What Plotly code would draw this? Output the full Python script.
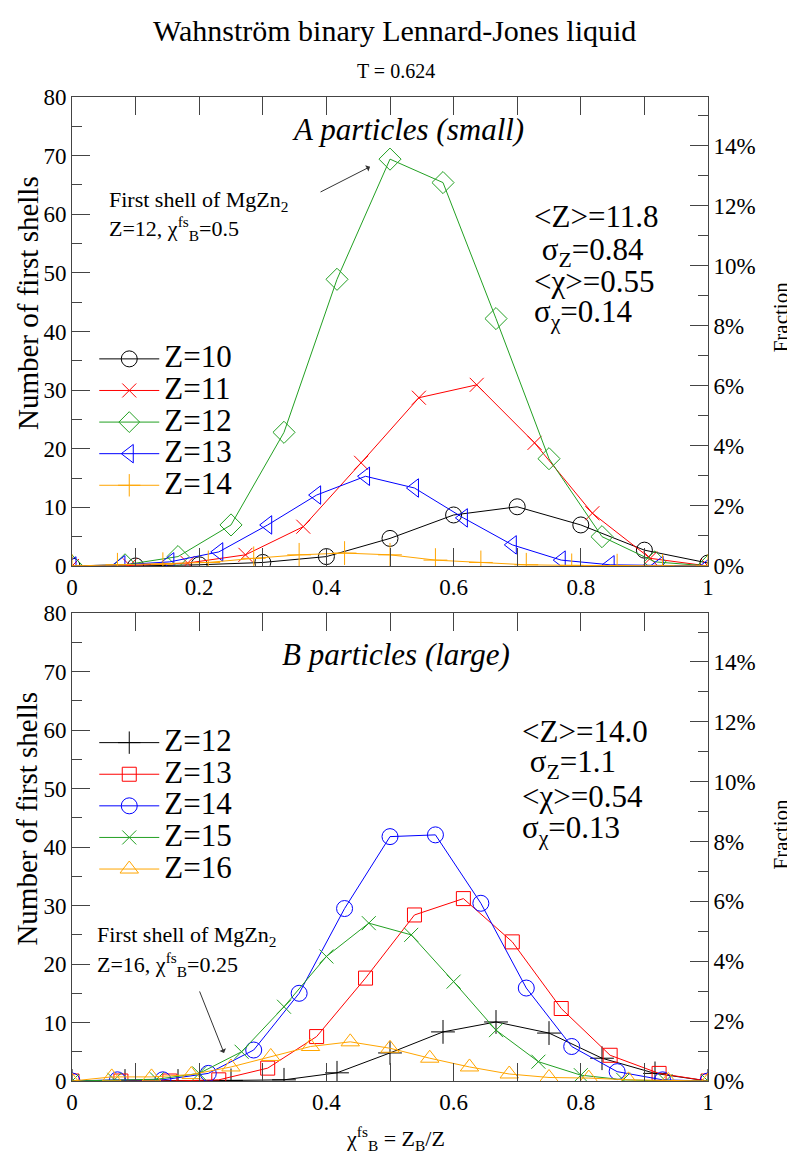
import plotly.graph_objects as go

# ---------------- data ----------------
# Panel A: small particles, coordination number Z, counts vs chi = Z_B/Z
a_Z = [10, 11, 12, 13, 14]
a_counts = {
    10: [0, 0, 0.2, 0.6, 1.6, 4.7, 8.7, 10.1, 7.0, 2.7, 0.5],
    11: [0, 0.1, 0.5, 1.9, 6.7, 17.6, 28.7, 30.9, 21.0, 9.0, 1.3, 0],
    12: [0, 0.2, 1.6, 7.0, 22.8, 48.9, 69.4, 65.4, 42.2, 18.3, 5.0, 0.7, 0],
    13: [0, 0.2, 0.7, 2.4, 7.0, 12.1, 15.3, 13.3, 8.2, 3.6, 1.0, 0.2, 0.1, 0],
    14: [0, 0.2, 0.3, 0.6, 1.3, 1.9, 2.2, 1.9, 1.0, 0.6, 0.2, 0.1, 0.05, 0, 0],
}
a_colors = {10: "#000000", 11: "#ff0000", 12: "#22a022", 13: "#0000ff", 14: "#ffa500"}
a_symbols = {10: "circle-open", 11: "x-thin-open", 12: "diamond-open",
             13: "triangle-left-open", 14: "cross-thin-open"}

# Panel B: large particles
b_Z = [12, 13, 14, 15, 16]
b_counts = {
    12: [0, 0, 0, 0.1, 0.2, 1.4, 4.8, 8.4, 10.1, 8.2, 3.9, 1.3, 0],
    13: [0, 0, 0, 0.2, 2.2, 7.6, 17.6, 28.4, 31.2, 23.8, 12.4, 4.4, 1.3, 0],
    14: [0, 0.2, 0.2, 1.3, 5.3, 15.0, 29.5, 41.8, 42.1, 30.4, 15.9, 5.9, 1.6, 0.2, 0],
    15: [0, 0.2, 0.3, 1.3, 5.0, 12.7, 21.3, 27.0, 25.0, 17.0, 8.7, 3.3, 1.0, 0.2, 0, 0],
    16: [0, 0.7, 0.7, 1.1, 2.4, 4.2, 5.9, 6.7, 5.6, 3.9, 2.4, 1.2, 0.6, 0.5, 0.2, 0.1, 0],
}
b_colors = {12: "#000000", 13: "#ff0000", 14: "#0000ff", 15: "#22a022", 16: "#ffa500"}
b_symbols = {12: "cross-thin-open", 13: "square-open", 14: "circle-open",
             15: "x-thin-open", 16: "triangle-up-open"}

marker_sizes = {"circle-open": 16, "x-thin-open": 14, "diamond-open": 17,
                "triangle-left-open": 16, "cross-thin-open": 17,
                "square-open": 14, "triangle-up-open": 16}

a_stats = ["&lt;Z&gt;=11.8", " σ<sub>Z</sub>=0.84", "&lt;χ&gt;=0.55", "σ<sub>χ</sub>=0.14"]
b_stats = ["&lt;Z&gt;=14.0", " σ<sub>Z</sub>=1.1", "&lt;χ&gt;=0.54", "σ<sub>χ</sub>=0.13"]

count_range = [0, 80]
fraction_range = [0, 15.625]  # percent, same scale as counts (total ~512 shells)

FONT = "Liberation Serif"
AX = "#444444"

fig = go.Figure()

def add_panel(Zs, counts, colors, symbols, xa, ya, legend):
    for Z in Zs:
        xs = [k / Z for k in range(Z + 1)]
        fig.add_trace(go.Scatter(
            x=xs, y=counts[Z], mode="lines+markers",
            name=f'<span style="font-size:31px">Z={Z}</span>',
            xaxis=xa, yaxis=ya, legend=legend,
            line=dict(color=colors[Z], width=1),
            marker=dict(symbol=symbols[Z], size=marker_sizes[symbols[Z]], color=colors[Z],
                        line=dict(color=colors[Z], width=1)),
        ))

add_panel(a_Z, a_counts, a_colors, a_symbols, "x", "y", "legend")
add_panel(b_Z, b_counts, b_colors, b_symbols, "x2", "y2", "legend2")

# empty traces so the right-hand (fraction) axes exist
fig.add_trace(go.Scatter(x=[], y=[], xaxis="x", yaxis="y3", showlegend=False))
fig.add_trace(go.Scatter(x=[], y=[], xaxis="x2", yaxis="y4", showlegend=False))

tickfont = dict(family=FONT, size=23, color="#000")

def xaxis_cfg(anchor):
    return dict(range=[0, 1], dtick=0.2, tick0=0, anchor=anchor, domain=[0, 1],
                showline=True, linecolor=AX, linewidth=1, mirror="allticks",
                ticks="inside", ticklen=18, tickcolor=AX, tickwidth=1,
                minor=dict(dtick=0.1, ticks="inside", ticklen=9, tickcolor=AX),
                showgrid=False, zeroline=False, tickfont=tickfont, automargin=False)

def yaxis_cfg(anchor, domain):
    return dict(range=count_range, dtick=10, anchor=anchor, domain=domain,
                showline=True, linecolor=AX, linewidth=1,
                ticks="inside", ticklen=18, tickcolor=AX, tickwidth=1,
                minor=dict(dtick=5, ticks="inside", ticklen=10, tickcolor=AX),
                showgrid=False, zeroline=False, tickfont=tickfont, automargin=False)

def yright_cfg(anchor, over):
    return dict(range=fraction_range, dtick=2, anchor=anchor, overlaying=over,
                side="right", ticksuffix="%",
                showline=True, linecolor=AX, linewidth=1,
                ticks="inside", ticklen=18, tickcolor=AX, tickwidth=1,
                minor=dict(dtick=1, ticks="inside", ticklen=10, tickcolor=AX),
                showgrid=False, zeroline=False, tickfont=tickfont, automargin=False)

dom_top = [0.5234, 1.0]
dom_bot = [0.0, 0.4753]

legend_cfg = dict(font=dict(family=FONT, size=22, color="#000"),
                  bgcolor="rgba(0,0,0,0)", itemwidth=60, tracegroupgap=0,
                  xanchor="left", yanchor="top")

# the page body adds an 8px offset, so margins are reduced on the left/top
fig.update_layout(
    width=795, height=1158,
    margin=dict(l=64, r=95, t=89, b=85),
    paper_bgcolor="white", plot_bgcolor="white",
    font=dict(family=FONT, color="#000"),
    xaxis=xaxis_cfg("y"),
    yaxis=yaxis_cfg("x", dom_top),
    yaxis3=yright_cfg("x", "y"),
    xaxis2=xaxis_cfg("y2"),
    yaxis2=yaxis_cfg("x2", dom_bot),
    yaxis4=yright_cfg("x2", "y2"),
    legend=dict(legend_cfg, x=0.035, y=0.755),
    legend2=dict(legend_cfg, x=0.035, y=0.365),
    showlegend=True,
)

ann = []
def text(x, y, t, size, xref="paper", yref="paper", xanchor="center", angle=0):
    ann.append(dict(x=x, y=y, xref=xref, yref=yref, text=t, showarrow=False,
                    xanchor=xanchor, yanchor="middle", textangle=angle,
                    font=dict(family=FONT, size=size, color="#000")))

# titles
text(0.507, 1.068, "Wahnström binary Lennard-Jones liquid", 30)
text(0.51, 1.026, "T = 0.624", 20)

# panel titles
text(0.528, 74.4, "<i>A particles (small)</i>", 31, "x", "y")
text(0.509, 72.9, "<i>B particles (large)</i>", 31, "x2", "y2")

# stats
for t, yy in zip(a_stats, [59.6, 53.6, 48.6, 42.9]):
    text(0.723, yy, t, 31, "x", "y", "left")
for t, yy in zip(b_stats, [59.8, 54.2, 48.6, 42.9]):
    text(0.704, yy, t, 31, "x2", "y2", "left")

# MgZn2 annotations
text(0.055, 62.2, "First shell of MgZn<sub>2</sub>", 22, "x", "y", "left")
text(0.055, 57.6, "Z=12, χ<sup>fs</sup><sub>B</sub>=0.5", 22, "x", "y", "left")
text(0.036, 24.8, "First shell of MgZn<sub>2</sub>", 22, "x2", "y2", "left")
text(0.036, 20.0, "Z=16, χ<sup>fs</sup><sub>B</sub>=0.25", 22, "x2", "y2", "left")

ann.append(dict(x=0.4686, y=68.1, xref="x", yref="y", text="", showarrow=True,
                ax=-51, ay=26, arrowhead=1, arrowsize=1.2, arrowwidth=1, arrowcolor="#333"))
ann.append(dict(x=0.239, y=4.8, xref="x2", yref="y2", text="", showarrow=True,
                ax=-25, ay=-63, arrowhead=1, arrowsize=1.2, arrowwidth=1, arrowcolor="#333"))

# axis titles
text(-0.0702, 0.791, "Number of first shells", 29, angle=-90)
text(-0.0702, 0.267, "Number of first shells", 29, angle=-90)
text(1.114, 0.7756, "Fraction", 21, angle=-90)
text(1.114, 0.25, "Fraction", 21, angle=-90)
text(0.508, -0.058, "χ<sup>fs</sup><sub>B</sub> = Z<sub>B</sub>/Z", 22)

fig.update_layout(annotations=ann)
fig.write_html("out.html")
